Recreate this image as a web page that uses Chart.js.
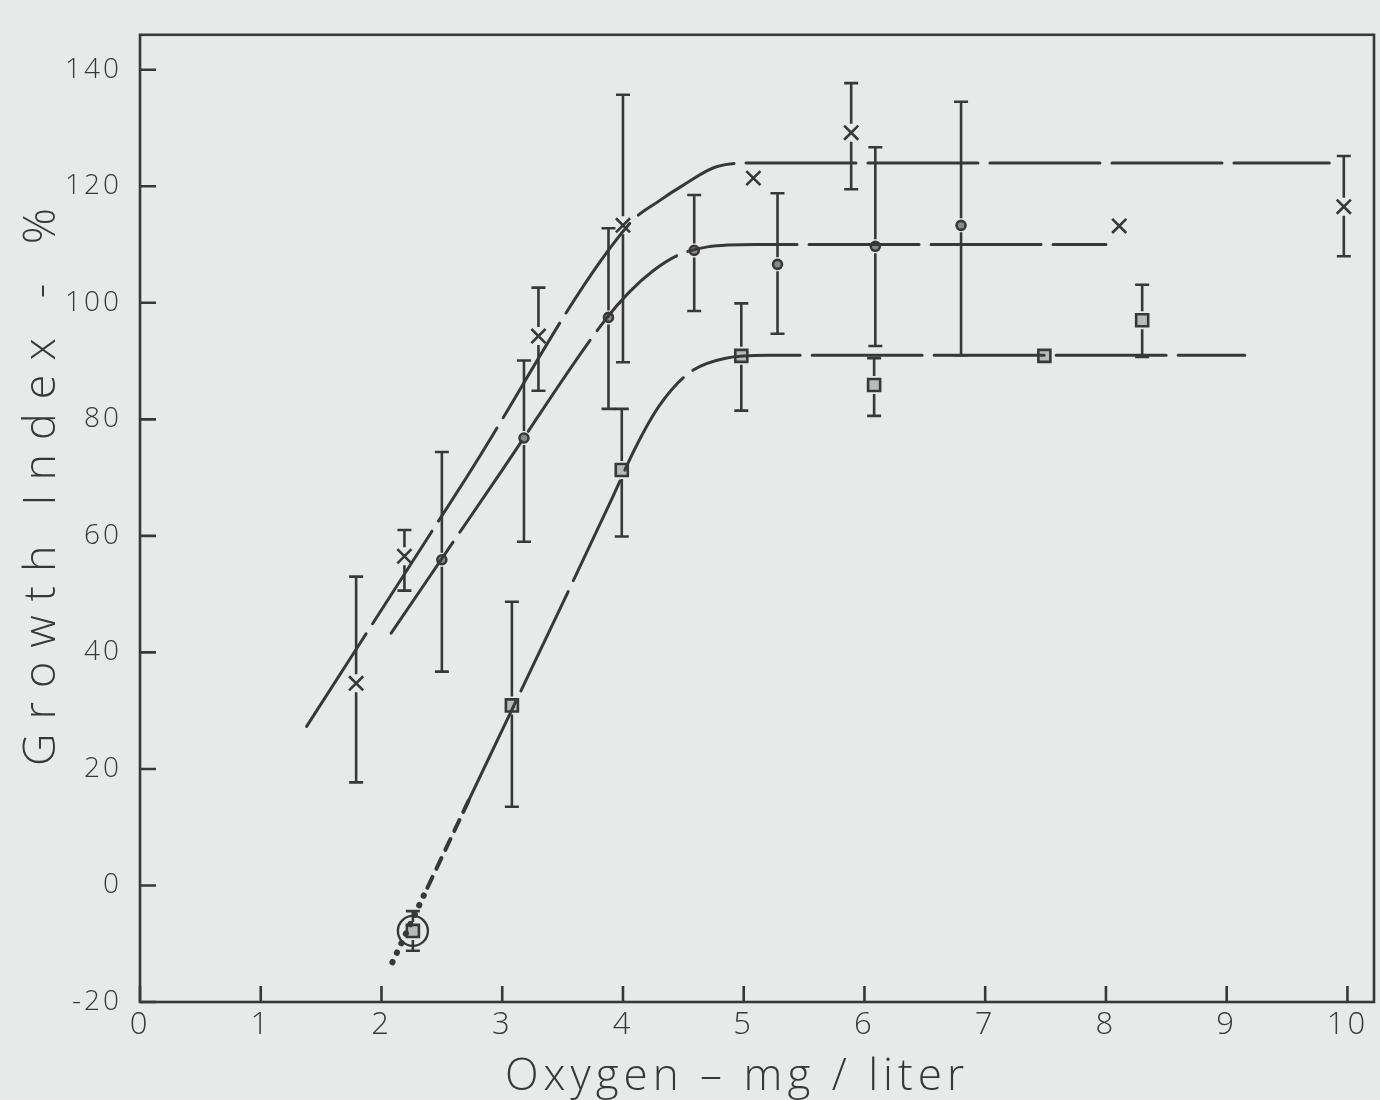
<!DOCTYPE html>
<html>
<head>
<meta charset="utf-8">
<title>Growth Index vs Oxygen</title>
<script src="https://cdn.jsdelivr.net/npm/chart.js@4.4.1/dist/chart.umd.min.js"></script>
<style>
  html, body { margin: 0; padding: 0; background: #e8eaea; overflow: hidden; }
  #wrap { position: relative; width: 1380px; height: 1100px; }
  canvas { display: block; }
</style>
</head>
<body>
<div id="wrap"><canvas id="growth-chart"></canvas></div>
<script>
// Tick labels
const xTicks = [0, 1, 2, 3, 4, 5, 6, 7, 8, 9, 10];
const yTicks = [-20, 0, 20, 40, 60, 80, 100, 120, 140];
const xTitle = "Oxygen \u2013 mg / liter";
const yTitle = "Growth Index - %";

// Crosses (x)
const crossX = [1.79, 2.19, 3.30, 4.00, 5.08, 5.89, 8.11, 9.97];
const crossY = [34.7, 56.5, 94.3, 113.3, 121.4, 129.2, 113.2, 116.5];
const crossLow = [17.7, 50.6, 84.9, 89.8, null, 119.5, null, 108.0];
const crossHigh = [53.0, 61.0, 102.6, 135.7, null, 137.7, null, 125.2];

// Circles (o)
const circX = [2.50, 3.18, 3.88, 4.59, 5.28, 6.09, 6.80];
const circY = [55.9, 76.8, 97.5, 109.0, 106.6, 109.7, 113.3];
const circLow = [36.7, 59.0, 81.8, 98.6, 94.7, 92.6, 91.0];
const circHigh = [74.4, 90.1, 112.8, 118.5, 118.8, 126.7, 134.5];

// Squares
const sqX = [2.26, 3.08, 3.99, 4.98, 6.08, 7.49, 8.30];
const sqY = [-7.8, 30.9, 71.3, 90.9, 85.9, 90.9, 97.0];
const sqLow = [-11.2, 13.5, 59.9, 81.5, 80.6, null, 90.7];
const sqHigh = [-4.4, 48.7, 81.8, 99.9, 90.5, null, 103.1];

// Fitted curves
const crossCurveX = [1.38, 2.70, 4.05, 4.30, 4.50, 4.78, 5.10, 9.85];
const crossCurveY = [27.3, 69.9, 113.5, 117.5, 120.2, 123.4, 124.0, 124.0];
const circCurveX = [2.08, 3.00, 3.85, 4.05, 4.25, 4.46, 4.70, 5.10, 8.00];
const circCurveY = [43.3, 71.3, 97.0, 101.8, 105.5, 108.2, 109.6, 110.0, 110.0];
const sqCurveX = [2.72, 3.90, 4.10, 4.30, 4.55, 4.85, 5.20, 9.15];
const sqCurveY = [14.5, 66.0, 75.0, 82.3, 88.0, 90.5, 91.0, 91.0];
const sqDotX = [2.09, 2.38];
const sqDotY = [-13.2, -0.4];
const sqDashX = [2.38, 2.72];
const sqDashY = [-0.4, 14.5];

const ink = "#383838";
const fontFamily = '"Open Sans", "DejaVu Sans", sans-serif';

function pts(xs, ys) {
  return xs.map((x, i) => ({ x: x, y: ys[i] }));
}

function curve(xs, ys, dash, width) {
  return {
    data: pts(xs, ys),
    showLine: true,
    borderColor: ink,
    borderWidth: width || 3,
    borderDash: dash,
    borderCapStyle: "round",
    cubicInterpolationMode: "monotone",
    pointRadius: 0,
    pointHoverRadius: 0,
  };
}

// Barres d'erreur
const errorSeries = [
  { xs: crossX, ys: crossY, lows: crossLow, highs: crossHigh, gap: 9 },
  { xs: circX, ys: circY, lows: circLow, highs: circHigh, gap: 7 },
  { xs: sqX, ys: sqY, lows: sqLow, highs: sqHigh, gap: 9 },
];

const errorBars = {
  id: "errorBars",
  beforeDatasetsDraw(chart) {
    const ctx = chart.ctx;
    const sx = chart.scales.x;
    const sy = chart.scales.y;
    ctx.save();
    ctx.letterSpacing = "0px";
    ctx.strokeStyle = ink;
    ctx.lineWidth = 2.6;
    errorSeries.forEach((s) => {
      s.xs.forEach((x, i) => {
        if (s.lows[i] === null) return;
        const px = sx.getPixelForValue(x);
        const pc = sy.getPixelForValue(s.ys[i]);
        const pl = sy.getPixelForValue(s.lows[i]);
        const ph = sy.getPixelForValue(s.highs[i]);
        ctx.beginPath();
        ctx.moveTo(px, ph);
        ctx.lineTo(px, Math.max(ph, pc - s.gap));
        ctx.moveTo(px, Math.min(pl, pc + s.gap));
        ctx.lineTo(px, pl);
        ctx.moveTo(px - 7, ph);
        ctx.lineTo(px + 7, ph);
        ctx.moveTo(px - 7, pl);
        ctx.lineTo(px + 7, pl);
        ctx.stroke();
      });
    });
    ctx.restore();
  },
};

// Cadre, graduations intérieures et titres
const frame = {
  id: "frame",
  beforeDraw(chart) {
    chart.ctx.letterSpacing = "3px";
  },
  afterDraw(chart) {
    const ctx = chart.ctx;
    const a = chart.chartArea;
    const sx = chart.scales.x;
    const sy = chart.scales.y;
    ctx.save();
    ctx.letterSpacing = "0px";
    ctx.strokeStyle = ink;
    ctx.lineWidth = 2.6;
    ctx.strokeRect(a.left, a.top, a.right - a.left, a.bottom - a.top);
    ctx.beginPath();
    yTicks.forEach((v) => {
      const py = sy.getPixelForValue(v);
      ctx.moveTo(a.left, py);
      ctx.lineTo(a.left + 16, py);
    });
    xTicks.forEach((v) => {
      const px = sx.getPixelForValue(v);
      ctx.moveTo(px, a.bottom);
      ctx.lineTo(px, a.bottom - 16);
    });
    ctx.stroke();

    ctx.fillStyle = ink;
    ctx.textAlign = "center";
    ctx.textBaseline = "middle";
    ctx.font = "300 45px " + fontFamily;
    ctx.letterSpacing = "14px";
    ctx.save();
    ctx.translate(42, 480);
    ctx.rotate(-Math.PI / 2);
    ctx.fillText(yTitle, 0, 0);
    ctx.restore();
    ctx.font = "300 44px " + fontFamily;
    ctx.letterSpacing = "5px";
    ctx.fillText(xTitle, 737, 1077);
    ctx.restore();
    ctx.letterSpacing = "0px";
  },
};

const yFont = { family: fontFamily, size: 28, weight: "300" };
const xFont = { family: fontFamily, size: 31, weight: "300" };

new Chart(document.getElementById("growth-chart"), {
  type: "scatter",
  data: {
    datasets: [
      curve(crossCurveX, crossCurveY, [110, 12]),
      curve(circCurveX, circCurveY, [110, 12]),
      curve(sqCurveX, sqCurveY, [110, 12]),
      curve(sqDotX, sqDotY, [0.5, 10], 6),
      curve(sqDashX, sqDashY, [12, 9], 4),
      {
        data: pts(crossX, crossY),
        pointStyle: "crossRot",
        pointRadius: 10,
        pointBorderWidth: 2.6,
        borderColor: ink,
        backgroundColor: ink,
      },
      {
        data: pts(circX, circY),
        pointStyle: "circle",
        pointRadius: 4.5,
        pointBorderWidth: 2.6,
        borderColor: ink,
        backgroundColor: "#8a8a8a",
      },
      {
        data: pts(sqX, sqY),
        pointStyle: "rect",
        pointRadius: 8.5,
        pointBorderWidth: 2.6,
        borderColor: ink,
        backgroundColor: "#b9bbbb",
      },
      {
        data: pts([sqX[0]], [sqY[0]]),
        pointStyle: "circle",
        pointRadius: 15,
        pointBorderWidth: 2.4,
        borderColor: ink,
        backgroundColor: "rgba(0,0,0,0)",
      },
    ],
  },
  options: {
    responsive: true,
    maintainAspectRatio: false,
    animation: false,
    events: [],
    layout: { autoPadding: false, padding: { top: 30, right: 6, left: 0, bottom: 0 } },
    plugins: {
      legend: { display: false },
      tooltip: { enabled: false },
    },
    scales: {
      x: {
        type: "linear",
        min: 0,
        max: 10.22,
        afterBuildTicks: (s) => {
          s.ticks = xTicks.map((v) => ({ value: v }));
        },
        afterFit: (s) => {
          s.height = 98;
          s.paddingLeft = 0;
          s.paddingRight = 0;
        },
        grid: { display: false, drawTicks: false },
        border: { display: false },
        ticks: {
          autoSkip: false,
          maxRotation: 0,
          padding: 5,
          color: ink,
          font: xFont,
        },
      },
      y: {
        type: "linear",
        min: -20,
        max: 146,
        afterBuildTicks: (s) => {
          s.ticks = yTicks.map((v) => ({ value: v }));
        },
        afterFit: (s) => {
          s.width = 140;
        },
        grid: { display: false, drawTicks: false },
        border: { display: false },
        ticks: {
          autoSkip: false,
          padding: 18,
          color: ink,
          font: yFont,
        },
      },
    },
  },
  plugins: [errorBars, frame],
});
</script>
</body>
</html>
